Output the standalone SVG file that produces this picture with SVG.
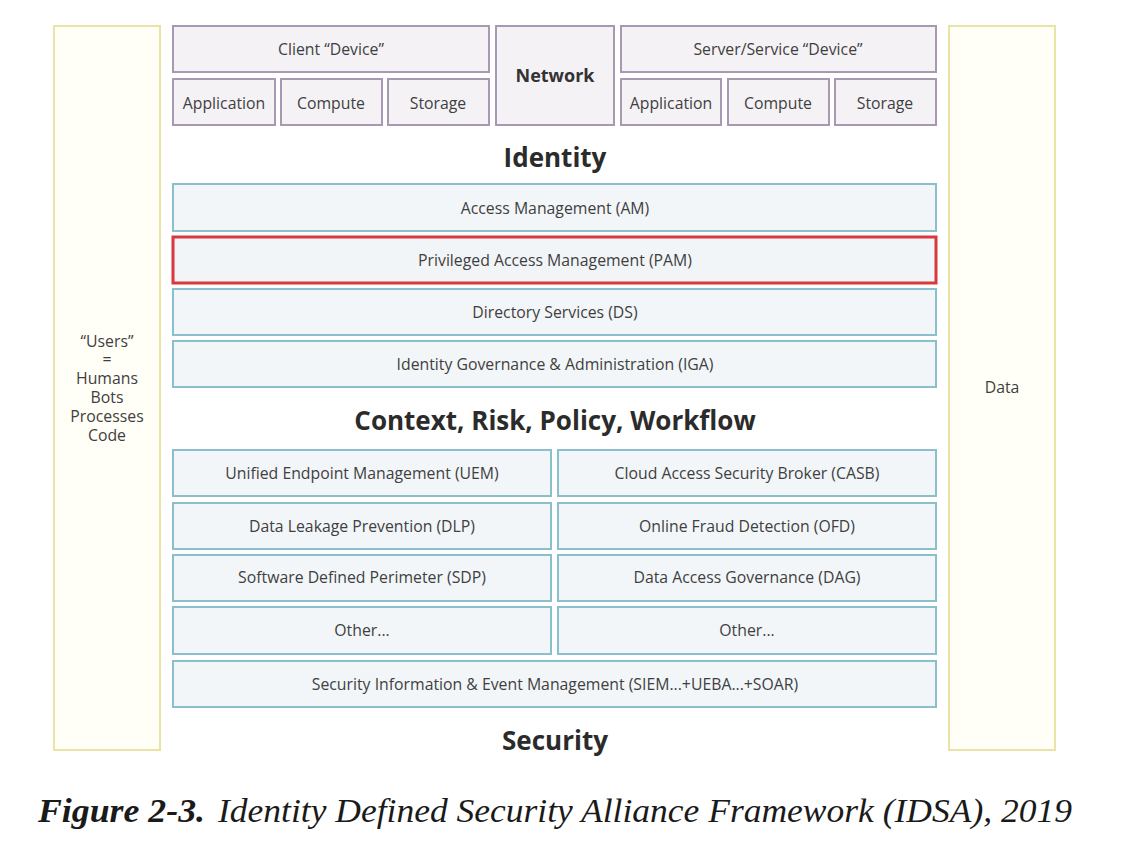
<svg xmlns="http://www.w3.org/2000/svg" width="1129" height="854" viewBox="0 0 1129 854">
<style>
.bg{fill:#ffffff}
.col{fill:#fffef7;stroke:#ebe2a6;stroke-width:2}
.dev{fill:#f5f2f6;stroke:#a898b3;stroke-width:2}
.blk{fill:#f2f6f9;stroke:#8cbfcc;stroke-width:2}
.pam{fill:#f2f5f8;stroke:#d9383d;stroke-width:3}
.t{font-family:"Open Sans","Noto Sans",sans-serif;font-size:15.8px;fill:#3f3f3f;text-anchor:middle;dominant-baseline:central}
.tb{font-family:"Open Sans","Noto Sans",sans-serif;font-size:18px;font-weight:bold;fill:#333;text-anchor:middle;dominant-baseline:central}
.h{font-family:"Open Sans","Noto Sans",sans-serif;font-size:26px;font-weight:bold;fill:#2b2b2b;text-anchor:middle;dominant-baseline:central}
.cap{font-family:"Liberation Serif",serif;font-size:34px;fill:#1a1a1a;font-style:italic}
</style>
<rect class="bg" x="0" y="0" width="1129" height="854"/>
<g id="users"><rect class="col" x="54" y="26" width="106" height="724"/>
<text class="t" x="107" y="341">“Users”</text><text class="t" x="107" y="359">=</text><text class="t" x="107" y="378">Humans</text><text class="t" x="107" y="397">Bots</text><text class="t" x="107" y="416">Processes</text><text class="t" x="107" y="435">Code</text></g>
<g id="data"><rect class="col" x="949" y="26" width="106" height="724"/><text class="t" x="1002" y="387">Data</text></g>
<g id="client"><rect class="dev" x="173" y="26" width="316" height="46"/><text class="t" x="331" y="49">Client “Device”</text></g>
<g id="client-app"><rect class="dev" x="173" y="79" width="102" height="46"/><text class="t" x="224" y="103">Application</text></g>
<g id="client-compute"><rect class="dev" x="281" y="79" width="101" height="46"/><text class="t" x="331" y="103">Compute</text></g>
<g id="client-storage"><rect class="dev" x="388" y="79" width="101" height="46"/><text class="t" x="438" y="103">Storage</text></g>
<g id="network"><rect class="dev" x="496" y="26" width="118" height="99"/><text class="tb" x="555" y="75">Network</text></g>
<g id="server"><rect class="dev" x="621" y="26" width="315" height="46"/><text class="t" x="778" y="49">Server/Service “Device”</text></g>
<g id="server-app"><rect class="dev" x="621" y="79" width="100" height="46"/><text class="t" x="671" y="103">Application</text></g>
<g id="server-compute"><rect class="dev" x="728" y="79" width="101" height="46"/><text class="t" x="778" y="103">Compute</text></g>
<g id="server-storage"><rect class="dev" x="835" y="79" width="101" height="46"/><text class="t" x="885" y="103">Storage</text></g>
<text class="h" x="555" y="157">Identity</text>
<g id="am"><rect class="blk" x="173" y="184" width="763" height="47"/><text class="t" x="555" y="208">Access Management (AM)</text></g>
<g id="pam"><rect class="pam" x="173" y="237" width="763" height="46"/><text class="t" x="555" y="260">Privileged Access Management (PAM)</text></g>
<g id="ds"><rect class="blk" x="173" y="289" width="763" height="46"/><text class="t" x="555" y="312">Directory Services (DS)</text></g>
<g id="iga"><rect class="blk" x="173" y="341" width="763" height="46"/><text class="t" x="555" y="364">Identity Governance &amp; Administration (IGA)</text></g>
<text class="h" x="555" y="420">Context, Risk, Policy, Workflow</text>
<g id="uem"><rect class="blk" x="173" y="450" width="378" height="46"/><text class="t" x="362" y="473">Unified Endpoint Management (UEM)</text></g>
<g id="casb"><rect class="blk" x="558" y="450" width="378" height="46"/><text class="t" x="747" y="473">Cloud Access Security Broker (CASB)</text></g>
<g id="dlp"><rect class="blk" x="173" y="503" width="378" height="46"/><text class="t" x="362" y="526">Data Leakage Prevention (DLP)</text></g>
<g id="ofd"><rect class="blk" x="558" y="503" width="378" height="46"/><text class="t" x="747" y="526">Online Fraud Detection (OFD)</text></g>
<g id="sdp"><rect class="blk" x="173" y="555" width="378" height="46"/><text class="t" x="362" y="577">Software Defined Perimeter (SDP)</text></g>
<g id="dag"><rect class="blk" x="558" y="555" width="378" height="46"/><text class="t" x="747" y="577">Data Access Governance (DAG)</text></g>
<g id="other1"><rect class="blk" x="173" y="607" width="378" height="47"/><text class="t" x="362" y="630">Other...</text></g>
<g id="other2"><rect class="blk" x="558" y="607" width="378" height="47"/><text class="t" x="747" y="630">Other...</text></g>
<g id="siem"><rect class="blk" x="173" y="661" width="763" height="46"/><text class="t" x="555" y="684">Security Information &amp; Event Management (SIEM...+UEBA...+SOAR)</text></g>
<text class="h" x="555" y="740">Security</text>
<g id="connectors"></g>
<text class="cap" x="38" y="822" font-weight="bold" textLength="167" lengthAdjust="spacingAndGlyphs">Figure 2-3.</text>
<text class="cap" x="218" y="822" textLength="854" lengthAdjust="spacingAndGlyphs">Identity Defined Security Alliance Framework (IDSA), 2019</text>
</svg>
